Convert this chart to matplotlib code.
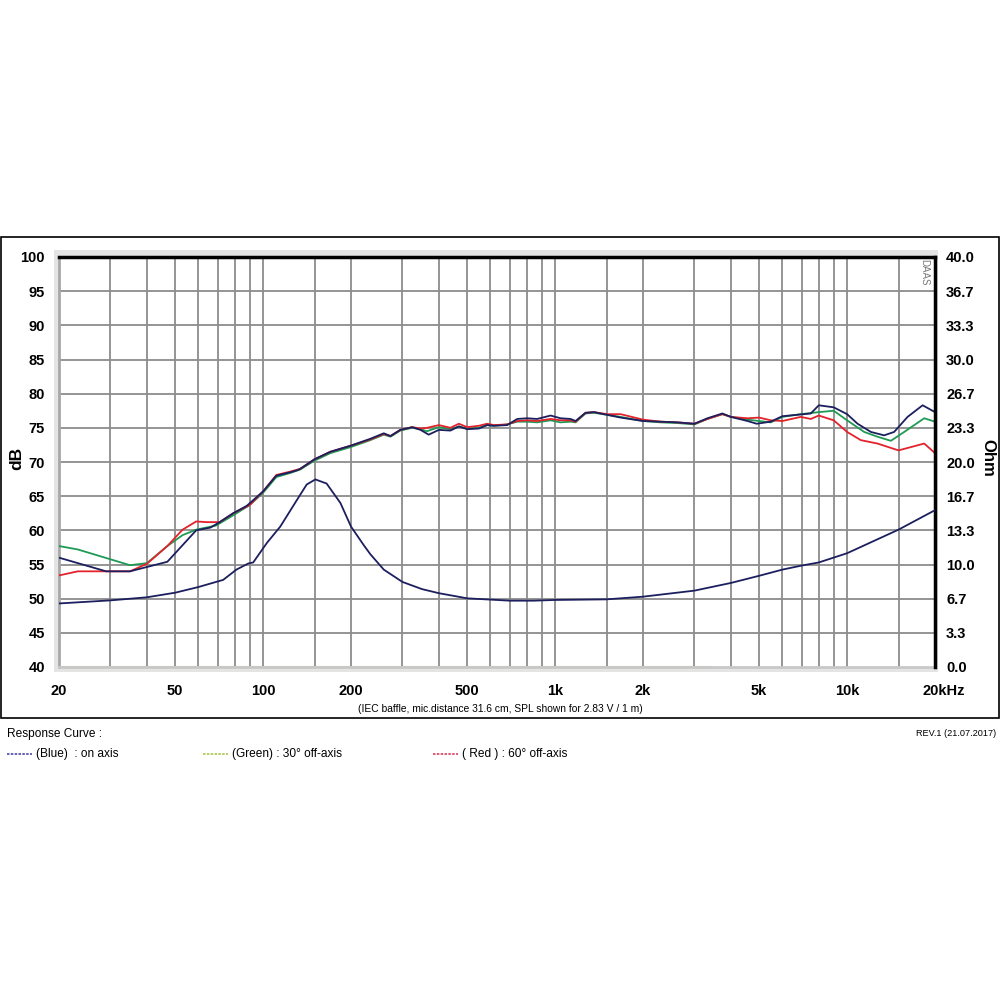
import matplotlib
matplotlib.use("Agg")
import matplotlib.pyplot as plt
from matplotlib.patches import Rectangle
from matplotlib.lines import Line2D

plt.rcParams['font.family'] = ['Liberation Sans', 'DejaVu Sans']

# on-axis SPL (blue)
f_blue = [20, 29, 35, 47, 59, 66, 71, 79, 88, 100, 111, 124, 131, 134, 150, 170, 200,
          233, 259, 273, 295, 324, 346, 369, 400, 438, 468, 500, 548, 585, 617, 685,
          742, 802, 868, 965, 1044, 1129, 1175, 1271, 1358, 1509, 1676, 2000, 2298,
          2622, 3000, 3324, 3740, 4000, 4558, 4900, 5476, 6000, 7510, 8000, 9000,
          10000, 10860, 12060, 13390, 14490, 16110, 18140, 20000]
db_blue = [56.0, 54.0, 54.0, 55.4, 60.0, 60.4, 61.2, 62.5, 63.6, 65.7, 68.0, 68.5, 68.8,
           69.0, 70.4, 71.5, 72.4, 73.4, 74.2, 73.8, 74.7, 75.1, 74.7, 74.0, 74.7, 74.6,
           75.2, 74.8, 74.9, 75.4, 75.3, 75.4, 76.3, 76.4, 76.3, 76.8, 76.4, 76.3, 76.0,
           77.2, 77.3, 76.9, 76.5, 76.0, 75.9, 75.8, 75.6, 76.4, 77.1, 76.6, 76.0, 75.6,
           75.9, 76.7, 77.1, 78.3, 78.0, 77.0, 75.6, 74.4, 73.9, 74.4, 76.6, 78.3, 77.3]

# 30 deg off-axis SPL (green)
f_green = [20, 23.2, 35, 40, 47, 53, 59, 69, 79, 90, 100, 111, 124, 134, 150, 170, 200,
           233, 259, 273, 295, 324, 346, 364, 400, 438, 468, 500, 548, 585, 617, 685,
           742, 802, 868, 965, 1044, 1129, 1175, 1271, 1358, 1509, 1676, 2000, 2298,
           2622, 3000, 3324, 3740, 4000, 4558, 5476, 6000, 6940, 8000, 9000, 10000,
           11440, 12710, 14120, 15690, 18370, 20000]
db_green = [57.7, 57.2, 54.9, 55.2, 57.7, 59.3, 60.1, 60.7, 62.2, 63.7, 65.5, 67.8, 68.4,
            68.9, 70.2, 71.3, 72.2, 73.2, 74.0, 73.7, 74.6, 75.0, 74.8, 74.5, 75.1, 74.8,
            75.2, 74.9, 75.0, 75.4, 75.3, 75.5, 75.9, 75.9, 75.8, 76.1, 75.8, 75.9, 75.8,
            77.1, 77.2, 76.9, 76.6, 76.0, 75.8, 75.7, 75.5, 76.3, 77.0, 76.6, 76.2, 75.8,
            76.6, 77.0, 77.3, 77.5, 76.1, 74.4, 73.7, 73.1, 74.4, 76.4, 75.9]

# 60 deg off-axis SPL (red)
f_red = [20, 23.2, 30, 35, 40, 47, 53, 59, 64, 71, 79, 90, 100, 111, 124, 134, 150, 170,
         200, 233, 259, 273, 295, 324, 346, 364, 400, 438, 468, 500, 548, 585, 617, 685,
         742, 802, 868, 965, 1044, 1129, 1175, 1271, 1358, 1509, 1676, 2000, 2298, 2622,
         3000, 3324, 3740, 4000, 4558, 5000, 5476, 6000, 6940, 7510, 8000, 9000, 10000,
         11140, 12710, 15000, 18370, 20000]
db_red = [53.4, 54.0, 54.0, 54.0, 55.1, 57.7, 60.1, 61.3, 61.2, 61.2, 62.5, 63.7, 65.7,
          68.1, 68.6, 69.0, 70.4, 71.5, 72.4, 73.3, 74.1, 73.8, 74.7, 75.1, 74.9, 75.0,
          75.4, 75.0, 75.6, 75.1, 75.3, 75.6, 75.4, 75.5, 76.0, 76.1, 76.0, 76.3, 76.1,
          76.1, 75.9, 77.2, 77.3, 77.0, 77.0, 76.2, 75.9, 75.8, 75.6, 76.3, 77.0, 76.6,
          76.4, 76.5, 76.1, 76.0, 76.6, 76.3, 76.8, 76.1, 74.4, 73.2, 72.7, 71.7, 72.7, 71.3]

# impedance (Ohm, right axis)
f_imp = [20, 30, 40, 50, 60, 73, 81, 89, 92.5, 103, 114.5, 130.6, 141, 151, 165, 184,
         200, 221, 233, 259, 300, 350, 400, 500, 700, 843, 1000, 1500, 2000, 3000, 4000,
         5000, 6000, 7000, 8000, 10000, 15000, 20000]
ohm_imp = [6.2, 6.5, 6.8, 7.25, 7.8, 8.5, 9.5, 10.1, 10.2, 12.1, 13.7, 16.3, 17.8, 18.3,
           17.9, 16.0, 13.7, 11.9, 11.0, 9.5, 8.3, 7.6, 7.2, 6.7, 6.47, 6.47, 6.54, 6.6,
           6.86, 7.45, 8.2, 8.9, 9.5, 9.9, 10.2, 11.1, 13.4, 15.3]

# faint trace along the bottom
f_base = [20, 3400]
db_base = [40, 40]

x_grid = [30, 40, 50, 60, 70, 80, 90, 100, 150, 200, 300, 400, 500, 600, 700, 800, 900,
          1000, 1500, 2000, 3000, 4000, 5000, 6000, 7000, 8000, 9000, 10000, 15000]
x_ticks = [20, 50, 100, 200, 500, 1000, 2000, 5000, 10000, 20000]
x_labels = ['20', '50', '100', '200', '500', '1k', '2k', '5k', '10k', '20kHz']
db_ticks = list(range(40, 101, 5))
ohm_labels = ['0.0', '3.3', '6.7', '10.0', '13.3', '16.7', '20.0', '23.3', '26.7',
              '30.0', '33.3', '36.7', '40.0']

fig = plt.figure(figsize=(10, 10), dpi=100)

# outer frame
fig.patches.append(Rectangle((0.001, 0.282), 0.998, 0.481, transform=fig.transFigure,
                             fill=False, edgecolor='black', linewidth=1.2))
# light gray band around the plot area
fig.patches.append(Rectangle((0.054, 0.328), 0.884, 0.422, transform=fig.transFigure,
                             facecolor='#e4e4e4', edgecolor='none', zorder=-5))

ax = fig.add_axes([0.059, 0.333, 0.876, 0.410])
ax.set_facecolor('white')
ax.set_xscale('log')
ax.set_xlim(20, 20000)
ax.set_ylim(40, 100)

for xv in x_grid:
    ax.axvline(xv, color='#8c8c8c', linewidth=1.3, zorder=1)
for yv in db_ticks[1:-1]:
    ax.axhline(yv, color='#8c8c8c', linewidth=1.3, zorder=1)

ax.plot(f_base, db_base, color='#b8d8a8', linewidth=1.5, zorder=2)
ax.plot(f_green, db_green, color='#1f9a55', linewidth=1.3, zorder=3)
ax.plot(f_red, db_red, color='#e3222c', linewidth=1.3, zorder=4)
ax.plot(f_blue, db_blue, color='#1c1f5e', linewidth=1.3, zorder=5)

ax.set_xticks([])
ax.xaxis.set_minor_locator(matplotlib.ticker.NullLocator())
ax.set_yticks(db_ticks)
ax.set_yticklabels([str(v) for v in db_ticks], fontsize=10.5, fontweight='bold')
ax.tick_params(axis='y', length=0, pad=10)

ax.spines['top'].set_color('black')
ax.spines['top'].set_linewidth(2.5)
ax.spines['right'].set_visible(False)
ax.spines['left'].set_color('#a8a8a8')
ax.spines['left'].set_linewidth(2)
ax.spines['bottom'].set_color('#c8c8c8')
ax.spines['bottom'].set_linewidth(2)

ax2 = ax.twinx()
ax2.set_ylim(0, 40)
ax2.plot(f_imp, ohm_imp, color='#1c1f5e', linewidth=1.3, zorder=5)
ax2.set_yticks([i * 40 / 12 for i in range(13)])
ax2.set_yticklabels(ohm_labels, fontsize=10.5, fontweight='bold')
ax2.tick_params(axis='y', length=0, pad=8)
for s in ['top', 'left', 'bottom']:
    ax2.spines[s].set_visible(False)
ax2.spines['right'].set_color('black')
ax2.spines['right'].set_linewidth(2.5)

for f, lab in zip(x_ticks, x_labels):
    if lab == '20kHz':
        ax.annotate(lab, xy=(f, 0), xycoords=('data', 'axes fraction'), xytext=(-9, -12),
                    textcoords='offset points', ha='left', va='top',
                    fontsize=10.5, fontweight='bold')
    else:
        ax.annotate(lab, xy=(f, 0), xycoords=('data', 'axes fraction'), xytext=(0, -12),
                    textcoords='offset points', ha='center', va='top',
                    fontsize=10.5, fontweight='bold')

fig.text(0.017, 0.542, 'dB', rotation=90, ha='center', va='center',
         fontsize=12.5, fontweight='bold')
fig.text(0.988, 0.542, 'Ohm', rotation=270, ha='center', va='center',
         fontsize=12, fontweight='bold')
ax.text(0.9935, 0.995, 'DAAS', transform=ax.transAxes, rotation=270, ha='right', va='top',
        fontsize=7, color='#7a7a7a')

fig.text(0.500, 0.291, '(IEC baffle, mic.distance 31.6 cm, SPL shown for 2.83 V / 1 m)',
         ha='center', va='center', fontsize=7.4)
fig.text(0.007, 0.266, 'Response Curve :', ha='left', va='center', fontsize=8.6)
fig.text(0.996, 0.266, 'REV.1 (21.07.2017)', ha='right', va='center', fontsize=6.6)

legend_items = [(0.007, '#4a4aa8', '(Blue)  : on axis'),
                (0.203, '#a8c84a', '(Green) : 30\u00b0 off-axis'),
                (0.433, '#d84060', '( Red ) : 60\u00b0 off-axis')]
for x0, col, lab in legend_items:
    fig.lines.append(Line2D([x0, x0 + 0.025], [0.246, 0.246], transform=fig.transFigure,
                            color=col, linewidth=1.2, linestyle=(0, (1.5, 0.8))))
    fig.text(x0 + 0.029, 0.246, lab, ha='left', va='center', fontsize=8.6)

fig.savefig('out.png', dpi=100)
